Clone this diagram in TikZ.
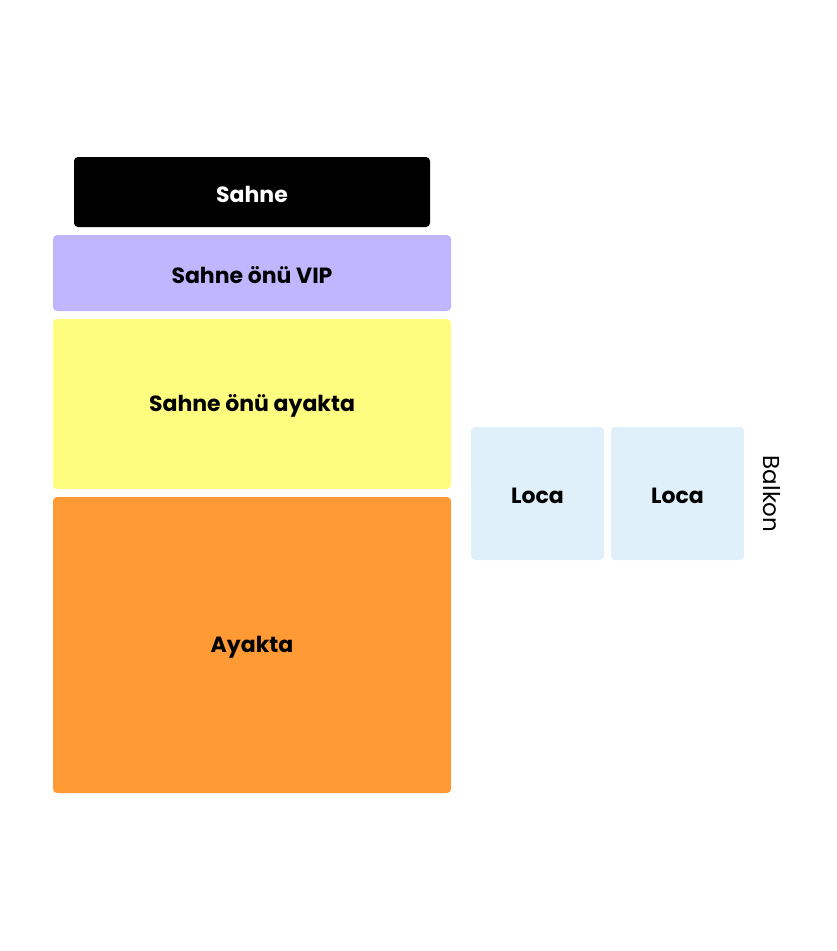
\documentclass[tikz,border=0pt]{standalone}
\usepackage{fontspec}
\setmainfont{Poppins}
\definecolor{vip}{HTML}{C0B5FF}
\definecolor{front}{HTML}{FFFD80}
\definecolor{stand}{HTML}{FF9A35}
\definecolor{loca}{HTML}{E0F0FA}
\begin{document}
\begin{tikzpicture}[x=1pt,y=-1pt,
  zone/.style={rounded corners=4pt,draw=none},
  lbl/.style={font=\fontsize{22}{26}\selectfont\bfseries,text=black}]
\useasboundingbox (0,0) rectangle (836,951);
\fill[white] (0,0) rectangle (836,951);
\fill[zone,fill=black] (74,157) rectangle (430,227);
\node[lbl,text=white] (sahne) at (252,194) {Sahne};
\fill[zone,fill=vip] (53,235) rectangle (451,311);
\node[lbl] (vip) at (252,275) {Sahne önü VIP};
\fill[zone,fill=front] (53,319) rectangle (451,489);
\node[lbl] (front) at (252,406) {Sahne önü ayakta};
\fill[zone,fill=stand] (53,497) rectangle (451,793);
\node[lbl] (ayakta) at (252,647) {Ayakta};
\fill[zone,fill=loca] (471,427) rectangle (604,560);
\node[lbl] (loca1) at (537.5,496) {Loca};
\fill[zone,fill=loca] (611,427) rectangle (744,560);
\node[lbl] (loca2) at (677.5,496) {Loca};
\node[font=\fontsize{23}{27}\selectfont,rotate=-90] (balkon) at (772,494) {Balkon};
\end{tikzpicture}
\end{document}
